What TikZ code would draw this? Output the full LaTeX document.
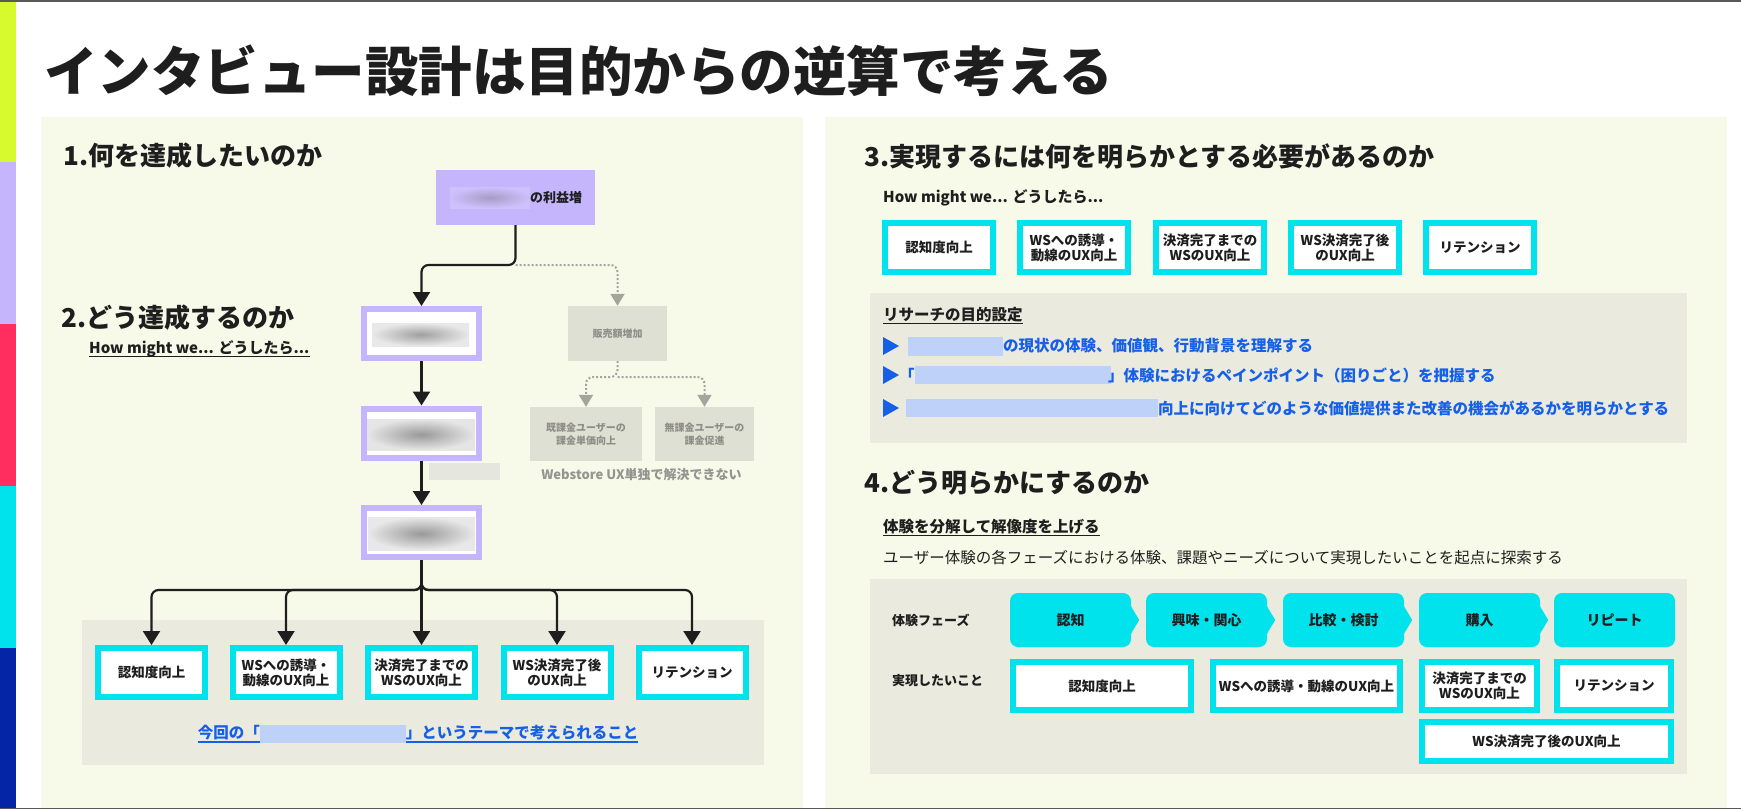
\documentclass[tikz,border=0pt]{standalone}
\usepackage{fontspec}
\setmainfont{Noto Sans CJK JP}
\newfontfamily\heavy{Noto Sans CJK JP Black}
\usetikzlibrary{arrows.meta, positioning, calc}
\definecolor{limebar}{RGB}{214,250,46}
\definecolor{lav}{RGB}{196,181,252}
\definecolor{hotred}{RGB}{255,46,94}
\definecolor{aqua}{RGB}{0,226,236}
\definecolor{navybar}{RGB}{4,38,166}
\definecolor{cream}{RGB}{248,250,233}
\definecolor{panelgray}{RGB}{234,235,222}
\definecolor{ink}{RGB}{30,30,30}
\definecolor{linkblue}{RGB}{22,96,232}
\definecolor{mute}{RGB}{223,224,212}
\definecolor{mutetext}{RGB}{142,142,136}
\definecolor{dotgray}{RGB}{165,165,160}
\newcommand{\fsz}[2]{\fontsize{#1}{#2}\selectfont}

\tikzset{
  goalbox/.style={draw=aqua, line width=6pt, fill=white, minimum width=107pt, minimum height=49pt,
    inner sep=0pt, align=center, text=ink, font=\bfseries\fsz{13.5}{15}},
  hmwbox/.style={draw=lav, line width=6pt, fill=white, minimum width=115pt, minimum height=49pt, inner sep=0pt},
  mutebox/.style={fill=mute, inner sep=0pt, align=center, text=mutetext, font=\bfseries\fsz{10}{13}},
  phasebox/.style={fill=aqua, rounded corners=8pt, minimum width=121pt, minimum height=54pt,
    inner sep=0pt, text=ink, font=\bfseries\fsz{14}{16}},
  heading/.style={anchor=west, inner sep=0pt, text=ink, font=\heavy\fsz{26}{30}},
  subhead/.style={anchor=west, inner sep=0pt, text=ink, font=\bfseries\fsz{15.5}{18}},
  aimtext/.style={anchor=west, inner sep=0pt, text=linkblue, font=\bfseries\fsz{15.5}{18}},
  flow/.style={draw=ink, line width=2.2pt, rounded corners=7pt, -{Triangle[width=17pt,length=14pt]}},
  maybe/.style={draw=dotgray, line width=2pt, dash pattern=on 2pt off 2pt, rounded corners=7pt,
    -{Triangle[width=14pt,length=12pt]}},
  uline/.style={draw=ink, line width=1.3pt},
}

\begin{document}
\begin{tikzpicture}[x=1pt, y=-1pt]
  \useasboundingbox (0,0) rectangle (1741,809);
  \fill[white] (0,0) rectangle (1741,809);
  % panels
  \fill[cream] (41,117) rectangle (803,809);
  \fill[cream] (825,117) rectangle (1727,809);
  % colour bar
  \fill[limebar] (0,0) rectangle (16,162);
  \fill[lav] (0,162) rectangle (16,324);
  \fill[hotred] (0,324) rectangle (16,486);
  \fill[aqua] (0,486) rectangle (16,648);
  \fill[navybar] (0,648) rectangle (16,809);
  \draw[black!65, line width=1.5pt] (0,0.75) -- (1741,0.75);
  \draw[black!65, line width=1.5pt] (0,808.25) -- (1741,808.25);

  \node[heading, font=\heavy\fsz{53.5}{60}] (title) at (44,71) {インタビュー設計は目的からの逆算で考える};

  % 1 and 2
  \node[heading] (h1) at (63,156) {1.何を達成したいのか};
  \node[heading] (h2) at (61,318) {2.どう達成するのか};
  \node[subhead, font=\bfseries\fsz{15}{18}] (hmw1) at (89,349) {How might we... どうしたら...};
  \draw[uline] ($(hmw1.base west)+(0,3)$) -- ($(hmw1.base east)+(0,3)$);

  \node[fill=lav, minimum width=159pt, minimum height=55pt, inner sep=0pt] (profit) at (515.5,197.5) {};
  \shade[inner color=lav!55!gray, outer color=lav!85!white] (450,187) rectangle (530,208);
  \node[anchor=west, inner sep=0pt, text=ink, font=\bfseries\fsz{13}{15}] (profittxt) at (530,197.5) {の利益増};

  \node[hmwbox] (howa) at (421.5,333.5) {};
  \node[hmwbox] (howb) at (421.5,433) {};
  \node[hmwbox] (howc) at (421.5,532.5) {};
  \shade[inner color=gray!75, outer color=gray!18] (372,323) rectangle (469,346);
  \shade[inner color=gray!80, outer color=gray!20] (367,419) rectangle (475,450);
  \shade[inner color=gray!80, outer color=gray!18] (368,517) rectangle (475,550);
  \fill[mute!80!white] (429,463) rectangle (500,480);

  \node[mutebox, minimum width=99pt, minimum height=55pt] (sales) at (617.5,333.5) {販売額増加};
  \node[mutebox, minimum width=112pt, minimum height=54pt] (paid) at (586,434) {既課金ユーザーの\\課金単価向上};
  \node[mutebox, minimum width=99pt, minimum height=54pt] (free) at (704.5,434) {無課金ユーザーの\\課金促進};
  \node[inner sep=0pt, text=dotgray!90!black, font=\bfseries\fsz{13}{15}] (alone) at (641.5,475) {Webstore UX単独で解決できない};

  \coordinate (split) at (515.5,265);
  \draw[flow] (profit.south) -- (split) -| (howa.north);
  \draw[maybe] (split) -| (sales.north);
  \coordinate (split2) at (617.5,377);
  \draw[maybe] (sales.south) -- (split2) -| (paid.north);
  \draw[maybe] (split2) -| (free.north);
  \draw[flow] (howa.south) -- (howb.north);
  \draw[flow] (howb.south) -- (howc.north);

  \fill[panelgray] (82,620) rectangle (764,765);
  \foreach \i/\x/\t in {1/151.5/認知度向上, 2/286/{WSへの誘導・\\動線のUX向上}, 3/421.5/{決済完了までの\\WSのUX向上},
      4/557/{WS決済完了後\\のUX向上}, 5/692/リテンション}
    \node[goalbox] (g\i) at (\x,672.5) {\t};
  \coordinate (fan) at (421.5,590);
  \foreach \i in {1,...,5}
    \draw[flow] (howc.south) -- (fan) -| (g\i.north);

  \node[aimtext, anchor=center] (theme) at (418,733) {今回の「\hspace{146pt}」というテーマで考えられること};
  \draw[linkblue, line width=1.3pt] ($(theme.base west)+(0,3)$) -- ($(theme.base east)+(0,3)$);
  \fill[linkblue!28] (260,725) rectangle (406,743);

  % 3
  \node[heading] (h3) at (864,156) {3.実現するには何を明らかとする必要があるのか};
  \node[subhead, font=\bfseries\fsz{15}{18}] (hmw2) at (883,198) {How might we... どうしたら...};
  \foreach \i/\x/\t in {1/939/認知度向上, 2/1074/{WSへの誘導・\\動線のUX向上}, 3/1210/{決済完了までの\\WSのUX向上},
      4/1345/{WS決済完了後\\のUX向上}, 5/1480/リテンション}
    \node[goalbox, minimum width=108pt] (r\i) at (\x,247.5) {\t};

  \fill[panelgray] (870,293) rectangle (1687,443);
  \node[subhead] (aimhead) at (883,315) {リサーチの目的設定};
  \draw[uline] ($(aimhead.base west)+(0,3)$) -- ($(aimhead.base east)+(0,3)$);
  \foreach \y in {346,375,408}
    \fill[linkblue] (883,\y-9) -- (899,\y) -- (883,\y+9) -- cycle;
  \fill[linkblue!28] (908,337) rectangle (1003,356);
  \node[aimtext] (aim1) at (1003,346) {の現状の体験、価値観、行動背景を理解する};
  \node[aimtext] (aim2a) at (899,375) {「};
  \fill[linkblue!28] (915,366) rectangle (1111,384);
  \node[aimtext] (aim2b) at (1108,375) {」体験におけるペインポイント（困りごと）を把握する};
  \fill[linkblue!28] (906,399) rectangle (1158,417);
  \node[aimtext] (aim3) at (1158,408) {向上に向けてどのような価値提供また改善の機会があるかを明らかとする};

  % 4
  \node[heading] (h4) at (864,483) {4.どう明らかにするのか};
  \node[subhead] (decomp) at (883,527) {体験を分解して解像度を上げる};
  \draw[uline] ($(decomp.base west)+(0,3)$) -- ($(decomp.base east)+(0,3)$);
  \node[subhead, font=\fsz{15.5}{18}] (explore) at (883,558) {ユーザー体験の各フェーズにおける体験、課題やニーズについて実現したいことを起点に探索する};

  \fill[panelgray] (870,579) rectangle (1687,774);
  \node[subhead, font=\bfseries\fsz{13}{15}] (phaselbl) at (892,620) {体験フェーズ};
  \node[subhead, font=\bfseries\fsz{13}{15}] (wantlbl) at (892,681) {実現したいこと};
  \foreach \i/\x/\t in {1/1070.5/認知, 2/1206.5/興味・関心, 3/1343.5/比較・検討, 4/1479.5/購入, 5/1614.5/リピート}
    \node[phasebox] (p\i) at (\x,620) {\t};
  \foreach \i in {1,...,4}
    \fill[aqua] ($(p\i.east)+(-1,-15)$) -- ++(9,15) -- ++(-9,15) -- cycle;

  \node[goalbox, minimum width=178pt, minimum height=48pt] (s1) at (1102,686) {認知度向上};
  \node[goalbox, minimum width=187pt, minimum height=48pt] (s2) at (1306.5,686) {WSへの誘導・動線のUX向上};
  \node[goalbox, minimum width=115pt, minimum height=48pt] (s3) at (1479.5,686) {決済完了までの\\WSのUX向上};
  \node[goalbox, minimum width=114pt, minimum height=48pt] (s4) at (1614,686) {リテンション};
  \node[goalbox, minimum width=249pt, minimum height=39pt] (s5) at (1546.5,741.5) {WS決済完了後のUX向上};
\end{tikzpicture}
\end{document}
